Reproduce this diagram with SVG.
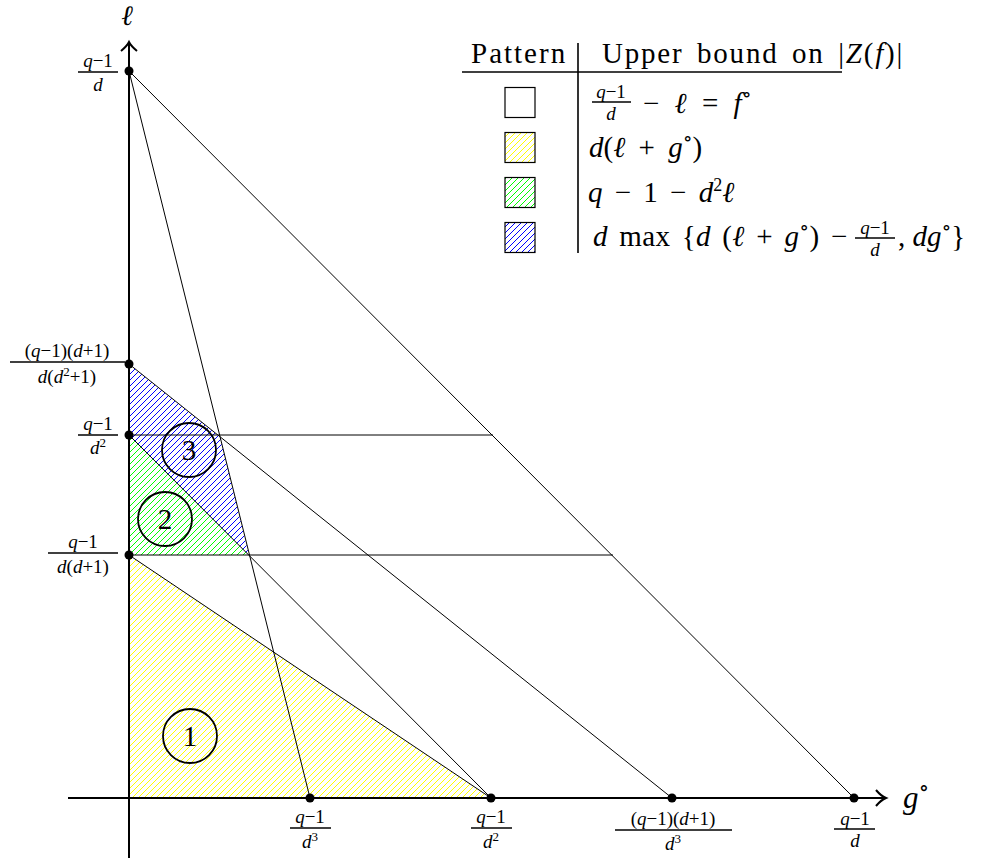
<svg xmlns="http://www.w3.org/2000/svg" width="992" height="861" viewBox="0 0 992 861">
<defs>
<clipPath id="cY"><polygon points="129,555 129,798 491,798"/></clipPath>
<clipPath id="cG"><polygon points="129,435 129,555 249,555"/></clipPath>
<clipPath id="cB"><polygon points="129,364 220,437 249,555 129,435"/></clipPath>
<clipPath id="cL2"><rect x="505" y="132.5" width="30" height="30"/></clipPath>
<clipPath id="cL3"><rect x="505" y="177.5" width="30" height="30"/></clipPath>
<clipPath id="cL4"><rect x="505" y="222.5" width="30" height="30"/></clipPath>
</defs>
<style>
text{font-family:"Liberation Serif","DejaVu Serif",serif;fill:#000}
.i{font-style:italic}
.fr{font-size:19px;text-anchor:middle}
.lg{font-size:29px}
.bar{stroke:#000;stroke-width:1.6}
.ln{stroke:#000;stroke-width:1;fill:none}
.ax{stroke:#000;stroke-width:2;fill:none}
.pt{fill:#000}
.cir{fill:none;stroke:#000;stroke-width:1.8}
.num{font-size:29px;text-anchor:middle}
.box{stroke:#000;stroke-width:1.2;fill:none}
.hy{stroke:#ffff00;stroke-width:1;fill:none}
.hg{stroke:#00ff00;stroke-width:1;fill:none}
.hb{stroke:#0000ff;stroke-width:1;fill:none}
</style>
<rect width="992" height="861" fill="#fff"/>

<g id="regions">
<path class="hy" clip-path="url(#cY)" d="M-116,800l450,-450m-444,450l450,-450m-444,450l450,-450m-444,450l450,-450m-444,450l450,-450m-444,450l450,-450m-444,450l450,-450m-444,450l450,-450m-444,450l450,-450m-444,450l450,-450m-444,450l450,-450m-444,450l450,-450m-444,450l450,-450m-444,450l450,-450m-444,450l450,-450m-444,450l450,-450m-444,450l450,-450m-444,450l450,-450m-444,450l450,-450m-444,450l450,-450m-444,450l450,-450m-444,450l450,-450m-444,450l450,-450m-444,450l450,-450m-444,450l450,-450m-444,450l450,-450m-444,450l450,-450m-444,450l450,-450m-444,450l450,-450m-444,450l450,-450m-444,450l450,-450m-444,450l450,-450m-444,450l450,-450m-444,450l450,-450m-444,450l450,-450m-444,450l450,-450m-444,450l450,-450m-444,450l450,-450m-444,450l450,-450m-444,450l450,-450m-444,450l450,-450m-444,450l450,-450m-444,450l450,-450m-444,450l450,-450m-444,450l450,-450m-444,450l450,-450m-444,450l450,-450m-444,450l450,-450m-444,450l450,-450m-444,450l450,-450m-444,450l450,-450m-444,450l450,-450m-444,450l450,-450m-444,450l450,-450m-444,450l450,-450m-444,450l450,-450m-444,450l450,-450m-444,450l450,-450m-444,450l450,-450m-444,450l450,-450m-444,450l450,-450m-444,450l450,-450m-444,450l450,-450m-444,450l450,-450m-444,450l450,-450m-444,450l450,-450m-444,450l450,-450m-444,450l450,-450m-444,450l450,-450m-444,450l450,-450m-444,450l450,-450m-444,450l450,-450m-444,450l450,-450m-444,450l450,-450m-444,450l450,-450m-444,450l450,-450m-444,450l450,-450m-444,450l450,-450m-444,450l450,-450m-444,450l450,-450m-444,450l450,-450m-444,450l450,-450m-444,450l450,-450m-444,450l450,-450m-444,450l450,-450m-444,450l450,-450m-444,450l450,-450m-444,450l450,-450m-444,450l450,-450m-444,450l450,-450m-444,450l450,-450m-444,450l450,-450m-444,450l450,-450m-444,450l450,-450m-444,450l450,-450m-444,450l450,-450m-444,450l450,-450m-444,450l450,-450m-444,450l450,-450m-444,450l450,-450m-444,450l450,-450m-444,450l450,-450m-444,450l450,-450m-444,450l450,-450m-444,450l450,-450m-444,450l450,-450m-444,450l450,-450"/>
<path class="hg" clip-path="url(#cG)" d="M-236,800l450,-450m-444,450l450,-450m-444,450l450,-450m-444,450l450,-450m-444,450l450,-450m-444,450l450,-450m-444,450l450,-450m-444,450l450,-450m-444,450l450,-450m-444,450l450,-450m-444,450l450,-450m-444,450l450,-450m-444,450l450,-450m-444,450l450,-450m-444,450l450,-450m-444,450l450,-450m-444,450l450,-450m-444,450l450,-450m-444,450l450,-450m-444,450l450,-450m-444,450l450,-450m-444,450l450,-450m-444,450l450,-450m-444,450l450,-450m-444,450l450,-450m-444,450l450,-450m-444,450l450,-450m-444,450l450,-450m-444,450l450,-450m-444,450l450,-450m-444,450l450,-450m-444,450l450,-450m-444,450l450,-450m-444,450l450,-450m-444,450l450,-450m-444,450l450,-450m-444,450l450,-450m-444,450l450,-450m-444,450l450,-450m-444,450l450,-450m-444,450l450,-450m-444,450l450,-450m-444,450l450,-450m-444,450l450,-450m-444,450l450,-450m-444,450l450,-450"/>
<path class="hb" clip-path="url(#cB)" d="M-308,800l450,-450m-444,450l450,-450m-444,450l450,-450m-444,450l450,-450m-444,450l450,-450m-444,450l450,-450m-444,450l450,-450m-444,450l450,-450m-444,450l450,-450m-444,450l450,-450m-444,450l450,-450m-444,450l450,-450m-444,450l450,-450m-444,450l450,-450m-444,450l450,-450m-444,450l450,-450m-444,450l450,-450m-444,450l450,-450m-444,450l450,-450m-444,450l450,-450m-444,450l450,-450m-444,450l450,-450m-444,450l450,-450m-444,450l450,-450m-444,450l450,-450m-444,450l450,-450m-444,450l450,-450m-444,450l450,-450m-444,450l450,-450m-444,450l450,-450m-444,450l450,-450m-444,450l450,-450m-444,450l450,-450m-444,450l450,-450m-444,450l450,-450m-444,450l450,-450m-444,450l450,-450m-444,450l450,-450m-444,450l450,-450m-444,450l450,-450m-444,450l450,-450m-444,450l450,-450m-444,450l450,-450m-444,450l450,-450m-444,450l450,-450m-444,450l450,-450m-444,450l450,-450m-444,450l450,-450m-444,450l450,-450m-444,450l450,-450m-444,450l450,-450m-444,450l450,-450m-444,450l450,-450"/>
</g>

<g id="connectors">
<line class="ln" x1="129" y1="71" x2="854" y2="798"/>
<line class="ln" x1="129" y1="71" x2="310" y2="798"/>
<line class="ln" x1="129" y1="364" x2="672" y2="798"/>
<line class="ln" x1="129" y1="555" x2="491" y2="798"/>
<line class="ln" x1="129" y1="435" x2="491" y2="798"/>
<line class="ln" x1="129" y1="435" x2="493" y2="435"/>
<line class="ln" x1="129" y1="555" x2="613" y2="555"/>
</g>

<g id="axes">
<line class="ax" x1="129" y1="858" x2="129" y2="43"/>
<line class="ax" x1="68" y1="798" x2="884" y2="798"/>
<path class="ax" d="M121,51 Q127,46 129,42 Q131,46 137,51"/>
<path class="ax" d="M876,790 Q881,796 886,798 Q881,800 876,806"/>
<text class="i" x="127" y="25" font-size="28" text-anchor="middle">ℓ</text>
<text x="903" y="808" font-size="31"><tspan class="i">g</tspan><tspan font-size="22" dy="-13">∘</tspan></text>
</g>

<g id="points">
<circle class="pt" cx="129" cy="71" r="4.5"/>
<circle class="pt" cx="129" cy="364" r="4.5"/>
<circle class="pt" cx="129" cy="435" r="4.5"/>
<circle class="pt" cx="129" cy="555" r="4.5"/>
<circle class="pt" cx="310" cy="798" r="4.5"/>
<circle class="pt" cx="491" cy="798" r="4.5"/>
<circle class="pt" cx="672" cy="798" r="4.5"/>
<circle class="pt" cx="854" cy="798" r="4.5"/>
</g>

<g id="axis-labels">
<g id="lab-y1">
<text class="fr" x="98" y="67"><tspan class="i">q</tspan>−1</text>
<line class="bar" x1="78" y1="72" x2="118" y2="72"/>
<text class="fr i" x="98" y="91">d</text>
</g>
<g id="lab-y2">
<text class="fr" x="67" y="357">(<tspan class="i">q</tspan>−1)(<tspan class="i">d</tspan>+1)</text>
<line class="bar" x1="10" y1="362" x2="125" y2="362"/>
<text class="fr" x="67" y="383"><tspan class="i">d</tspan>(<tspan class="i">d</tspan><tspan font-size="13" dy="-7">2</tspan><tspan dy="7">+1)</tspan></text>
</g>
<g id="lab-y3">
<text class="fr" x="98" y="430"><tspan class="i">q</tspan>−1</text>
<line class="bar" x1="78" y1="435" x2="118" y2="435"/>
<text class="fr" x="98" y="454"><tspan class="i">d</tspan><tspan font-size="13" dy="-7">2</tspan></text>
</g>
<g id="lab-y4">
<text class="fr" x="83" y="548"><tspan class="i">q</tspan>−1</text>
<line class="bar" x1="48" y1="553" x2="118" y2="553"/>
<text class="fr" x="83" y="573"><tspan class="i">d</tspan>(<tspan class="i">d</tspan>+1)</text>
</g>
<g id="lab-x1">
<text class="fr" x="310" y="823"><tspan class="i">q</tspan>−1</text>
<line class="bar" x1="290" y1="828" x2="331" y2="828"/>
<text class="fr" x="310" y="848"><tspan class="i">d</tspan><tspan font-size="13" dy="-7">3</tspan></text>
</g>
<g id="lab-x2">
<text class="fr" x="491" y="823"><tspan class="i">q</tspan>−1</text>
<line class="bar" x1="471" y1="828" x2="512" y2="828"/>
<text class="fr" x="491" y="848"><tspan class="i">d</tspan><tspan font-size="13" dy="-7">2</tspan></text>
</g>
<g id="lab-x3">
<text class="fr" x="673" y="825">(<tspan class="i">q</tspan>−1)(<tspan class="i">d</tspan>+1)</text>
<line class="bar" x1="615" y1="830" x2="732" y2="830"/>
<text class="fr" x="673" y="850"><tspan class="i">d</tspan><tspan font-size="13" dy="-7">3</tspan></text>
</g>
<g id="lab-x4">
<text class="fr" x="855" y="825"><tspan class="i">q</tspan>−1</text>
<line class="bar" x1="834" y1="829" x2="875" y2="829"/>
<text class="fr i" x="855" y="847">d</text>
</g>
</g>

<g id="region-1"><circle class="cir" cx="190" cy="736" r="27"/><text class="num" x="190" y="746">1</text></g>
<g id="region-2"><circle class="cir" cx="165" cy="519" r="27"/><text class="num" x="165" y="529">2</text></g>
<g id="region-3"><circle class="cir" cx="189" cy="450" r="27"/><text class="num" x="189" y="460">3</text></g>

<g id="legend">
<text class="lg" x="471" y="63" letter-spacing="2">Pattern</text>
<text class="lg" x="602" y="63" letter-spacing="1.8" word-spacing="4.5">Upper bound on |<tspan class="i">Z</tspan>(<tspan class="i">f</tspan>)|</text>
<line x1="462" y1="72" x2="842" y2="72" stroke="#000" stroke-width="1.6"/>
<line x1="578" y1="43" x2="578" y2="253" stroke="#000" stroke-width="1.6"/>
<g id="leg-row1">
<rect class="box" x="505" y="87.5" width="30" height="30"/>
<text class="fr" x="611" y="98"><tspan class="i">q</tspan>−1</text>
<line class="bar" x1="592" y1="102" x2="631" y2="102"/>
<text class="fr i" x="611" y="120">d</text>
<text class="lg" x="643" y="113" word-spacing="8">− <tspan class="i">ℓ</tspan> = <tspan class="i">f</tspan><tspan font-size="20" dy="-12">∘</tspan></text>
</g>
<g id="leg-row2">
<path class="hy" clip-path="url(#cL2)" d="M466,170l50,-50m-44,50l50,-50m-44,50l50,-50m-44,50l50,-50m-44,50l50,-50m-44,50l50,-50m-44,50l50,-50m-44,50l50,-50m-44,50l50,-50m-44,50l50,-50m-44,50l50,-50m-44,50l50,-50m-44,50l50,-50"/>
<rect class="box" x="505" y="132.5" width="30" height="30"/>
<text class="lg" x="589" y="157" word-spacing="6"><tspan class="i">d</tspan>(<tspan class="i">ℓ</tspan> + <tspan class="i">g</tspan><tspan font-size="20" dy="-12">∘</tspan><tspan dy="12">)</tspan></text>
</g>
<g id="leg-row3">
<path class="hg" clip-path="url(#cL3)" d="M463,215l50,-50m-44,50l50,-50m-44,50l50,-50m-44,50l50,-50m-44,50l50,-50m-44,50l50,-50m-44,50l50,-50m-44,50l50,-50m-44,50l50,-50m-44,50l50,-50m-44,50l50,-50m-44,50l50,-50m-44,50l50,-50"/>
<rect class="box" x="505" y="177.5" width="30" height="30"/>
<text class="lg" x="588" y="202" word-spacing="5"><tspan class="i">q</tspan> − 1 − <tspan class="i">d</tspan><tspan font-size="18" dy="-11">2</tspan><tspan class="i" dy="11">ℓ</tspan></text>
</g>
<g id="leg-row4">
<path class="hb" clip-path="url(#cL4)" d="M466,260l50,-50m-44,50l50,-50m-44,50l50,-50m-44,50l50,-50m-44,50l50,-50m-44,50l50,-50m-44,50l50,-50m-44,50l50,-50m-44,50l50,-50m-44,50l50,-50m-44,50l50,-50m-44,50l50,-50m-44,50l50,-50"/>
<rect class="box" x="505" y="222.5" width="30" height="30"/>
<text class="lg" x="593" y="246" word-spacing="4" letter-spacing="0.3"><tspan class="i">d</tspan> max {<tspan class="i">d</tspan> (<tspan class="i">ℓ</tspan> + <tspan class="i">g</tspan><tspan font-size="20" dy="-12">∘</tspan><tspan dy="12">) −</tspan></text>
<text class="fr" x="875" y="234"><tspan class="i">q</tspan>−1</text>
<line class="bar" x1="855" y1="238" x2="895" y2="238"/>
<text class="fr i" x="875" y="256">d</text>
<text class="lg" x="898" y="246">, <tspan class="i">dg</tspan><tspan font-size="20" dy="-12">∘</tspan><tspan dy="12">}</tspan></text>
</g>
</g>
</svg>
